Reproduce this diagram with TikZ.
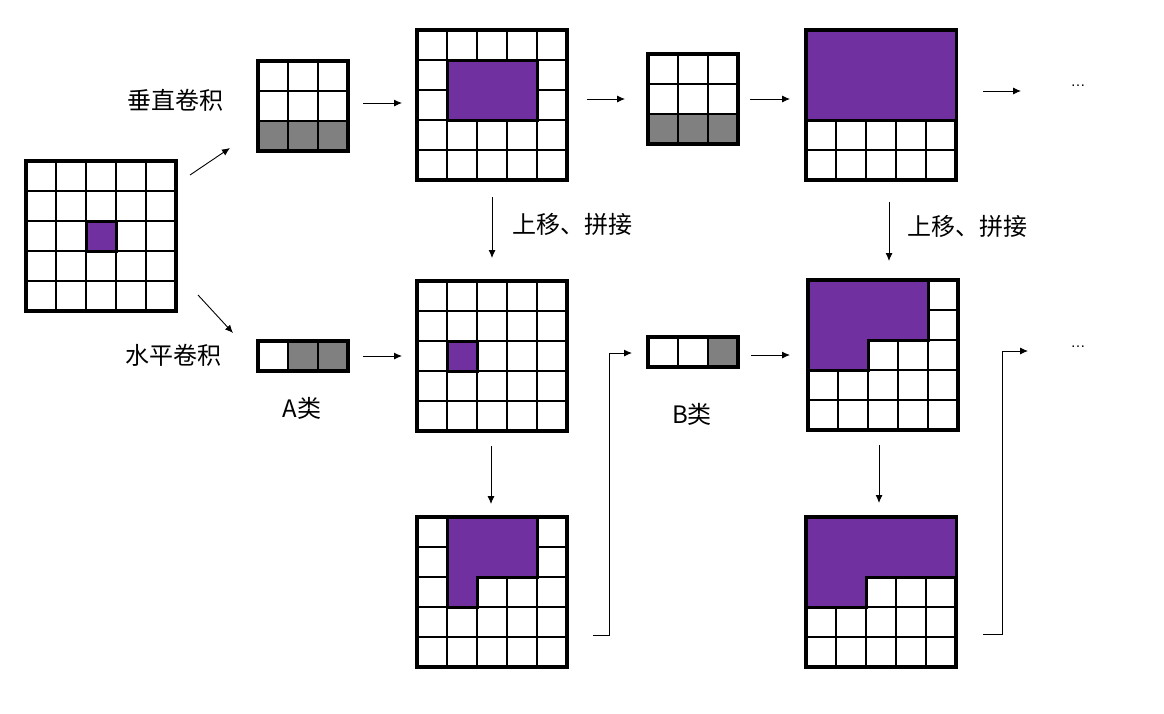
\documentclass[tikz,border=0pt]{standalone}
\usepackage{fontspec}
\setmainfont{Noto Sans CJK SC}
\newfontfamily\dotsfont{Liberation Sans}
\usetikzlibrary{calc,arrows.meta}

\definecolor{convpurple}{HTML}{7030A0}
\definecolor{kerngray}{HTML}{808080}

\tikzset{
  cellbox/.style={draw=black, fill=white, line width=3.5pt, inner sep=0pt, outer sep=0pt},
  cellline/.style={draw=black, line width=2.8pt},
  filled/.style={fill=convpurple, draw=black, line width=3pt},
  shade/.style={fill=kerngray},
  arr/.style={-{Latex[length=8pt,width=7pt]}, line width=0.9pt},
  lbl/.style={font=\fontsize{24}{28}\selectfont, inner sep=0pt},
  dotslbl/.style={font=\dotsfont\fontsize{15}{18}\selectfont, inner sep=0pt}
}

% cell lines inside a named box: name, columns, rows
\newcommand{\cellgrid}[3]{%
  \foreach \col in {1,...,#2}
    \draw[cellline] ($(#1.north west)+(30*\col,0)$) -- ++(0,30*#3);
  \foreach \row in {1,...,#3}
    \draw[cellline] ($(#1.north west)+(0,30*\row)$) -- ++(30*#2,0);
}

\begin{document}
\begin{tikzpicture}[x=1pt, y=-1pt]
\useasboundingbox (0,0) rectangle (1164,713);

% boxes: name / centre / columns / rows
\foreach \name/\pos/\w/\h in {G0/{(101,236)}/5/5, K1/{(303,106)}/3/3, G1/{(492,105)}/5/5, K2/{(693,99)}/3/3, G2/{(881,105)}/5/5, KA/{(303,356)}/3/1, G3/{(492,356)}/5/5, KB/{(693,352)}/3/1, G5/{(883,355)}/5/5, G4/{(492,592)}/5/5, G6/{(881,592)}/5/5}
\node[cellbox, minimum width=\w*30pt, minimum height=\h*30pt] (\name) at \pos {};

% gray kernel cells
\fill[shade] ($(K1.north west)+(0,60)$) rectangle +(90,30);
\fill[shade] ($(K2.north west)+(0,60)$) rectangle +(90,30);
\fill[shade] ($(KA.north west)+(30,0)$) rectangle +(60,30);
\fill[shade] ($(KB.north west)+(60,0)$) rectangle +(30,30);

\foreach \name/\w/\h in {G0/5/5, K1/3/3, G1/5/5, K2/3/3, G2/5/5, KA/3/1, G3/5/5, KB/3/1, G5/5/5, G4/5/5, G6/5/5}
{\cellgrid{\name}{\w}{\h}}

% outer borders again over the fills
\foreach \name in {K1, K2, KA, KB}
\draw[line width=3.5pt] (\name.north west) rectangle (\name.south east);

% purple regions
\draw[filled] ($(G0.north west)+(60,60)$) rectangle +(30,30);
\draw[filled] ($(G1.north west)+(30,30)$) rectangle +(90,60);
\draw[filled] (G2.north west) rectangle +(150,90);
\draw[filled] ($(G3.north west)+(30,60)$) rectangle +(30,30);
\draw[filled] ($(G4.north west)+(30,0)$) -- ++(90,0) -- ++(0,60) -- ++(-60,0) -- ++(0,30) -- ++(-30,0) -- cycle;
\draw[filled] (G5.north west) -- ++(120,0) -- ++(0,60) -- ++(-60,0) -- ++(0,30) -- ++(-60,0) -- cycle;
\draw[filled] (G6.north west) -- ++(150,0) -- ++(0,60) -- ++(-90,0) -- ++(0,30) -- ++(-60,0) -- cycle;

% labels
\node[lbl] (vconv) at (175,100) {垂直卷积};
\node[lbl] (hconv) at (173,355) {水平卷积};
\node[lbl] (clsA) at (302,408) {A类};
\node[lbl] (clsB) at (692,414) {B类};
\node[lbl] (shift1) at (572,224) {上移、拼接};
\node[lbl] (shift2) at (967,226) {上移、拼接};
\node[dotslbl] (dots1) at (1078,86) {…};
\node[dotslbl] (dots2) at (1078,347) {…};

% connectors
\draw[arr] ($(G0.east)+(14,-61)$) -- ($(K1.west)+(-28,42)$);
\draw[arr] ($(G0.east)+(22,59)$) -- ($(KA.west)+(-25,-23)$);
\draw[arr, shorten <=15pt, shorten >=15pt] ($(K1.east)+(0,-3)$) -- ($(K1.east -| G1.west)+(0,-3)$);
\draw[arr, shorten <=20pt, shorten >=23pt] (G1.east |- K2.west) -- (K2.west);
\draw[arr, shorten <=12pt, shorten >=16pt] (K2.east) -- (K2.east -| G2.west);
\draw[arr, shorten <=27pt, shorten >=57pt] ($(G2.east)+(0,-14)$) -- ($(dots1.center)+(0,5)$);
\draw[arr, shorten <=15pt, shorten >=15pt] (KA.east) -- (KA.east -| G3.west);
\draw[arr, shorten <=13pt, shorten >=18pt] ($(KB.east)+(0,3)$) -- ($(KB.east -| G5.west)+(0,3)$);
\draw[arr, shorten <=17pt, shorten >=23pt] (G1.south) -- (G1.south |- G3.north);
\draw[arr, shorten <=22pt, shorten >=19pt] ($(G2.south)+(8,0)$) -- ($(G2.south |- G5.north)+(8,0)$);
\draw[arr, shorten <=15pt, shorten >=13pt] ($(G3.south)+(-1,0)$) -- ($(G3.south |- G4.north)+(-1,0)$);
\draw[arr, shorten <=15pt, shorten >=14pt] ($(G5.south)+(-4,0)$) -- ($(G5.south |- G6.north)+(-4,0)$);
\draw[arr] ($(G4.east)+(26,43)$) -- ++(16,0) |- ($(KB.west)+(-16,1)$);
\draw[arr] ($(G6.east)+(27,42)$) -- ++(19,0) |- ($(dots2.center)+(-50,4)$);

\end{tikzpicture}
\end{document}
